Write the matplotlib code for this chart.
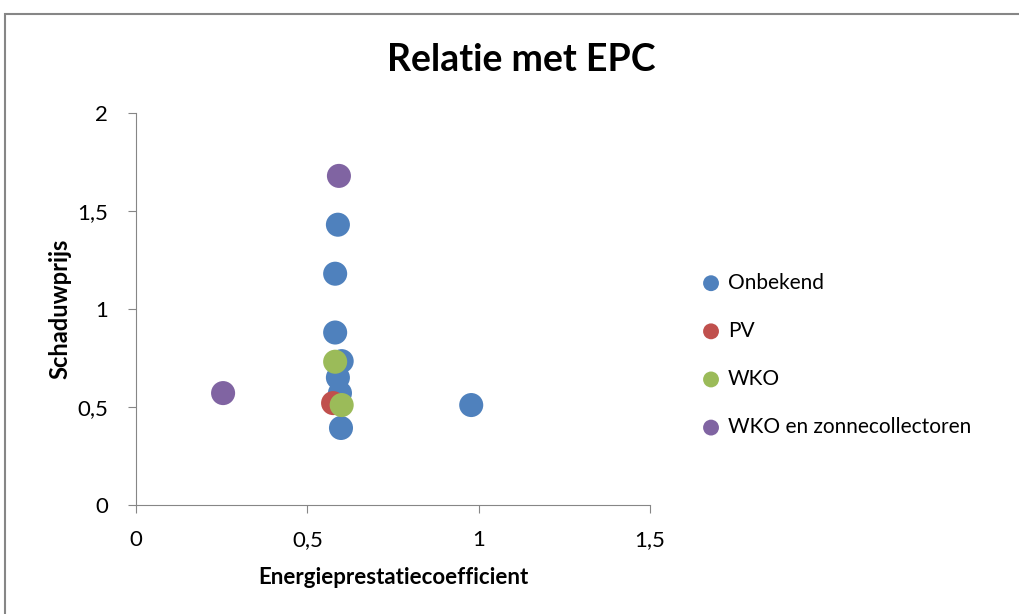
import matplotlib
matplotlib.use("Agg")
import matplotlib.pyplot as plt
from matplotlib.patches import Rectangle

plt.rcParams['font.family'] = ['Lato', 'DejaVu Sans']

# data
series = ['Onbekend', 'PV', 'WKO', 'WKO en zonnecollectoren']
colors = ['#4F81BD', '#C0504D', '#9BBB59', '#8064A2']
x_onbekend = [0.589, 0.581, 0.581, 0.600, 0.589, 0.595, 0.598, 0.978]
y_onbekend = [1.43, 1.18, 0.88, 0.734, 0.650, 0.571, 0.393, 0.51]
x_pv = [0.575]
y_pv = [0.52]
x_wko = [0.581, 0.600]
y_wko = [0.731, 0.51]
x_wko_zon = [0.592, 0.254]
y_wko_zon = [1.679, 0.571]
xs = [x_onbekend, x_pv, x_wko, x_wko_zon]
ys = [y_onbekend, y_pv, y_wko, y_wko_zon]

ticks = [0, 0.5, 1, 1.5, 2]
tick_labels = ['0', '0,5', '1', '1,5', '2']

fig = plt.figure(figsize=(10.19, 6.14), dpi=100)
ax = fig.add_axes([0.1335, 0.1775, 0.5045, 0.6385])

for name, c, x, y in zip(series, colors, xs, ys):
    ax.scatter(x, y, s=300, color=c, label=name, edgecolors='none', zorder=3)

ax.set_xlim(0, 1.5)
ax.set_ylim(0, 2)
ax.set_xticks(ticks[:4])
ax.set_xticklabels(tick_labels[:4])
ax.set_yticks(ticks)
ax.set_yticklabels(tick_labels)
for s in ['top', 'right']:
    ax.spines[s].set_visible(False)
for s in ['left', 'bottom']:
    ax.spines[s].set_color('#868686')
ax.tick_params(colors='#868686', labelcolor='black', labelsize=16, length=6)
ax.tick_params(axis='x', pad=12)
ax.tick_params(axis='y', pad=14)

fig.text(521 / 1019, 1 - 60 / 614, 'Relatie met EPC', fontsize=27,
         fontweight='bold', ha='center', va='center')
ax.set_xlabel('Energieprestatiecoefficient', fontsize=16, fontweight='bold', labelpad=12)
ax.set_ylabel('Schaduwprijs', fontsize=17, fontweight='bold', labelpad=4)

ax.legend(loc='center left', bbox_to_anchor=(1.082, 0.383), frameon=False,
          borderaxespad=0, fontsize=15, markerscale=0.66, handlelength=1.0,
          handletextpad=0.3, labelspacing=1.35)

# chart border
fig.patches.append(Rectangle((5 / 1019, -0.1), 1.2, (614 - 14) / 614 + 0.1,
                             transform=fig.transFigure, fill=False,
                             edgecolor='#868686', linewidth=1.5))

fig.savefig('out.png', dpi=100)
